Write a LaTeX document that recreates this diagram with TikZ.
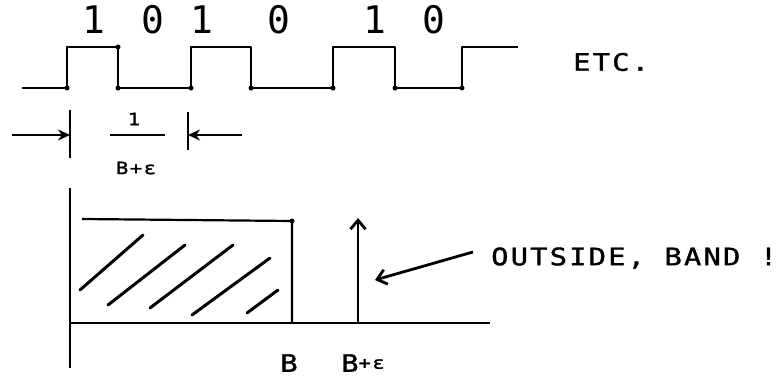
\documentclass[tikz,border=0pt]{standalone}
\usepackage{fontspec}
\usetikzlibrary{arrows.meta}
\newfontfamily\typew[LetterSpace=9, FakeStretch=1.2, FakeBold=1.5]{DejaVu Sans Mono}
\newfontfamily\typewplain{DejaVu Sans Mono}

\begin{document}
\begin{tikzpicture}[x=1pt,y=-1pt,
  wave/.style={line width=2.8pt, line join=round},
  ink/.style={line width=2.2pt},
  dot/.style={circle, fill, inner sep=0pt, minimum size=5pt},
  digit/.style={font=\typewplain\fontsize{38}{38}\selectfont, inner sep=0pt},
  txt/.style={font=\typew\fontsize{24}{26}\selectfont, inner sep=0pt},
  smalltxt/.style={font=\typew\fontsize{17}{19}\selectfont, inner sep=0pt},
  hatch/.style={line width=3pt, line cap=round},
  dimarrow/.style={ink, -{Stealth[length=12pt,width=11pt]}},
  barb/.style={line width=2.8pt, -{Straight Barb[length=9pt,width=15pt]}}
]
\useasboundingbox (0,0) rectangle (780,380);

% ---- pulse train ----
\coordinate (w0) at (22,88);
\coordinate (w1) at (67,88);   \coordinate (w2) at (67,47);
\coordinate (w3) at (118,47);  \coordinate (w4) at (118,88);
\coordinate (w5) at (191,88);  \coordinate (w6) at (191,47);
\coordinate (w7) at (251,47);  \coordinate (w8) at (251,88);
\coordinate (w9) at (333,88);  \coordinate (w10) at (333,47);
\coordinate (w11) at (395,47); \coordinate (w12) at (395,88);
\coordinate (w13) at (462,88); \coordinate (w14) at (462,47);
\coordinate (w15) at (518,47);
\draw[wave] (w0) -- (w1) -- (w2) -- (w3) -- (w4) -- (w5) -- (w6) -- (w7)
  -- (w8) -- (w9) -- (w10) -- (w11) -- (w12) -- (w13) -- (w14) -- (w15);
\foreach \c in {w1,w3,w4,w5,w8,w9,w12,w13}
  \node[dot] at (\c) {};

% bit values
\node[digit] (b1) at (94,20)  {1};
\node[digit] (b2) at (153,20) {0};
\node[digit] (b3) at (202,20) {1};
\node[digit] (b4) at (279,20) {0};
\node[digit] (b5) at (375,20) {1};
\node[digit] (b6) at (434,20) {0};

\node[txt, anchor=west] (etc) at (573,62) {ETC.};

% ---- bit period dimension ----
\coordinate (tl1) at (70,110);  \coordinate (tl2) at (70,158);
\coordinate (tr1) at (188,112); \coordinate (tr2) at (188,150);
\coordinate (al) at (12,135);   \coordinate (alt) at (70,135);
\coordinate (ar) at (242,135);  \coordinate (art) at (188,135);
\draw[ink] (tl1) -- (tl2);
\draw[ink] (tr1) -- (tr2);
\draw[dimarrow] (al) -- (alt);
\draw[dimarrow] (ar) -- (art);
\coordinate (fb1) at (110,135); \coordinate (fb2) at (165,135);
\draw[line width=1.8pt] (fb1) -- (fb2);
\node[smalltxt] (num) at (134,119) {1};
\node[smalltxt] (den) at (136,168) {B+ε};

% ---- spectrum ----
\coordinate (ya1) at (70,188);  \coordinate (ya2) at (70,368);
\coordinate (xa1) at (70,323);  \coordinate (xa2) at (490,323);
\draw[ink] (ya1) -- (ya2);
\draw[ink] (xa1) -- (xa2);
\coordinate (r1) at (82,219);   \coordinate (r2) at (292,221);
\coordinate (r3) at (292,323);
\draw[ink] (r1) -- (r2) -- (r3);
\node[dot] at (r2) {};

% hatching of the band
\draw[hatch] (80,290) -- (143,235);
\draw[hatch] (108,305) -- (185,245);
\draw[hatch] (150,308) -- (233,245);
\draw[hatch] (192,315) -- (270,258);
\draw[hatch] (247,313) -- (278,290);

% tone just above the band
\coordinate (imp0) at (358,323); \coordinate (imp1) at (358,218);
\draw[barb] (imp0) -- (imp1);

\node[txt, anchor=west] (outside) at (491,258) {OUTSIDE, BAND !};
\coordinate (pt) at (375,280);
\coordinate (pf) at (473,252);
\draw[barb] (pf) -- (pt);

\node[txt] (lb) at (289,363) {B};
\node[inner sep=0pt, anchor=west] (lbe) at (341,363)
  {\typew\fontsize{24}{26}\selectfont B\raisebox{3pt}{\fontsize{17}{18}\selectfont+ε}};
\end{tikzpicture}
\end{document}
